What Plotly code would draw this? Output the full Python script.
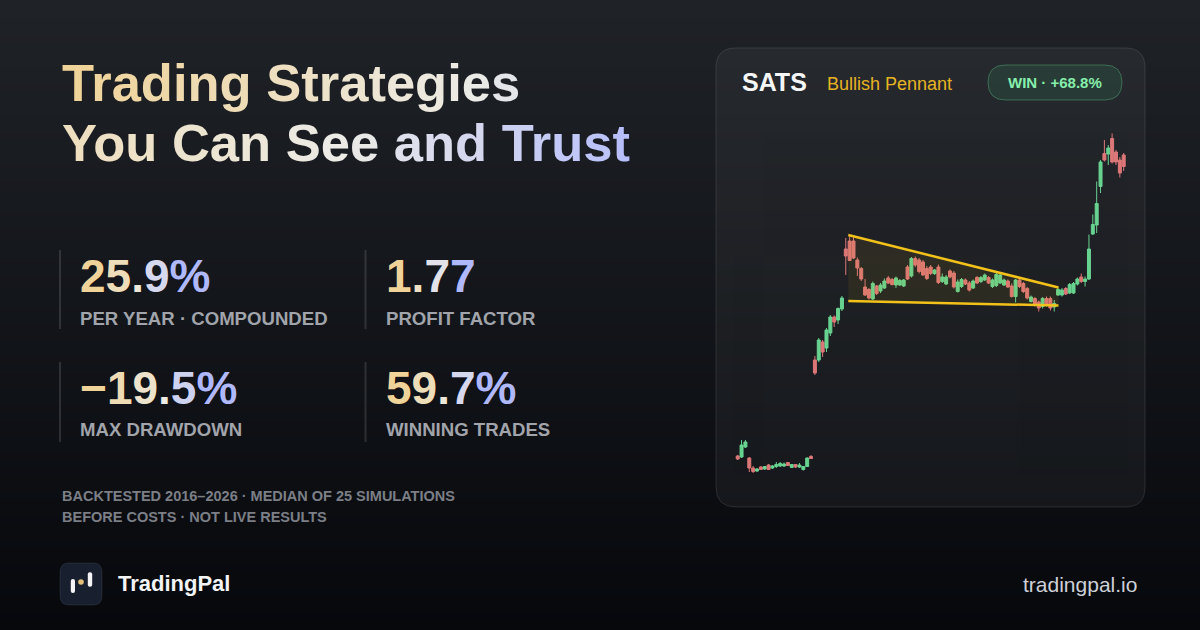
import plotly.graph_objects as go

W, H = 1200, 630

###############################################################################
# Chart values: SATS daily candles (price units)
###############################################################################

candle_open = [14.40, 14.30, 15.30, 14.20, 13.20, 12.90, 13.30, 13.10, 13.50, 13.20,
               13.35, 13.40, 13.40, 13.75, 13.25, 13.55, 13.30, 13.05, 13.35, 14.35,
               24.00, 24.00, 25.80, 25.20, 26.70, 28.30, 28.00, 29.10, 35.10, 35.90,
               35.90, 34.00, 33.15, 31.30, 31.05, 30.10, 31.40, 30.90, 31.20, 32.20,
               32.05, 31.50, 31.50, 31.40, 33.30, 32.40, 34.15, 34.00, 33.80, 33.15,
               33.30, 32.65, 33.30, 31.85, 31.60, 32.90, 32.70, 30.85, 31.35, 32.00,
               31.70, 31.20, 32.25, 31.85, 32.00, 32.25, 31.35, 31.45, 31.70, 31.50,
               31.90, 31.40, 30.35, 32.00, 31.65, 31.15, 29.85, 30.15, 29.80, 29.35,
               30.15, 30.15, 29.30, 30.50, 30.50, 31.15, 30.70, 30.70, 31.60, 32.30,
               31.85, 32.10, 36.60, 37.50, 41.35, 44.65, 44.60, 46.15, 44.80, 44.00,
               44.50]
candle_high = [14.50, 16.00, 16.00, 14.30, 13.40, 13.20, 13.40, 13.40, 13.60, 13.50,
               13.80, 13.80, 13.75, 13.80, 13.60, 13.60, 13.70, 13.40, 14.25, 14.50,
               24.40, 26.20, 26.00, 27.20, 28.50, 28.45, 29.25, 30.40, 36.20, 36.40,
               36.40, 34.25, 33.30, 32.10, 31.20, 31.85, 31.50, 31.70, 32.15, 32.40,
               32.20, 32.35, 32.10, 32.10, 33.50, 34.30, 34.35, 34.20, 34.00, 33.40,
               33.50, 33.10, 33.55, 32.65, 32.50, 33.05, 32.90, 32.05, 32.20, 32.15,
               31.90, 32.05, 32.40, 32.40, 32.65, 32.40, 32.15, 32.70, 32.65, 32.15,
               32.05, 31.65, 32.10, 32.15, 31.80, 31.30, 30.45, 30.30, 29.95, 30.30,
               30.35, 30.35, 30.00, 31.25, 31.20, 31.30, 31.70, 31.80, 32.25, 32.65,
               32.35, 36.55, 38.55, 41.85, 44.00, 46.00, 45.50, 46.65, 45.00, 44.30,
               44.70]
candle_low = [14.00, 14.20, 15.20, 12.80, 12.70, 12.80, 13.00, 13.00, 13.00, 13.10,
              13.20, 13.30, 13.30, 13.40, 13.20, 13.20, 13.20, 12.95, 13.30, 14.10,
              22.50, 23.80, 24.30, 24.80, 26.40, 27.30, 27.60, 28.90, 32.50, 33.90,
              34.10, 32.40, 31.90, 30.40, 30.05, 30.00, 30.50, 30.70, 31.10, 31.60,
              31.45, 31.20, 31.40, 31.30, 32.00, 32.25, 33.30, 32.65, 32.40, 32.00,
              32.50, 32.50, 31.60, 31.70, 31.50, 32.15, 31.15, 30.75, 31.20, 31.50,
              30.85, 31.10, 31.60, 31.70, 31.90, 31.60, 31.20, 31.30, 31.60, 31.40,
              31.20, 30.25, 29.75, 31.20, 30.70, 30.05, 29.75, 29.35, 28.85, 29.15,
              29.35, 28.95, 28.85, 30.40, 30.35, 30.50, 30.60, 30.60, 31.45, 31.70,
              31.35, 32.00, 36.50, 36.70, 40.70, 43.85, 43.50, 43.65, 43.50, 42.25,
              42.90]
candle_close = [14.10, 15.50, 15.80, 13.20, 12.85, 13.10, 13.05, 13.35, 13.05, 13.40,
                13.55, 13.65, 13.60, 13.45, 13.55, 13.30, 13.50, 13.35, 14.20, 14.15,
                22.70, 26.00, 24.80, 27.00, 28.30, 27.80, 29.15, 30.20, 34.40, 33.95,
                34.20, 33.20, 32.10, 30.50, 30.20, 31.65, 30.65, 31.50, 31.90, 31.70,
                31.55, 32.20, 31.95, 32.00, 32.10, 34.15, 33.50, 32.85, 32.50, 32.15,
                32.65, 33.00, 31.75, 32.30, 32.30, 32.30, 31.30, 31.80, 32.05, 31.60,
                31.00, 31.90, 31.70, 32.25, 32.50, 31.70, 32.00, 32.55, 32.50, 32.00,
                31.30, 30.35, 32.00, 31.35, 30.85, 30.20, 30.30, 29.60, 29.20, 30.15,
                29.50, 29.20, 29.65, 31.05, 31.00, 30.60, 31.55, 31.65, 32.10, 31.85,
                32.10, 35.10, 37.55, 39.65, 43.80, 44.00, 45.20, 43.80, 43.80, 42.70,
                43.35]
candle_idx = list(range(len(candle_open)))

# Pennant trend lines (candle index, price)
pennant_x = [28.65, 83.1]
pennant_top = [36.50, 31.25]
pennant_bottom = [29.90, 29.45]

# Headline stats
stat_values = ["25.9%", "1.77", "\u221219.5%", "59.7%"]
stat_labels = ["PER YEAR \u00b7 COMPOUNDED", "PROFIT FACTOR", "MAX DRAWDOWN", "WINNING TRADES"]
title_lines = ["Trading Strategies", "You Can See and Trust"]
footnotes = ["BACKTESTED 2016\u20132026 \u00b7 MEDIAN OF 25 SIMULATIONS",
             "BEFORE COSTS \u00b7 NOT LIVE RESULTS"]

###############################################################################
# Helpers
###############################################################################

FONT = "Liberation Sans, Arial, sans-serif"
GREEN = "#6fe39a"
RED = "#ee7f7f"
GOLD_LINE = "#f3c21a"


def px(x):
    return x / W


def py(y):
    return 1 - y / H


def hex_rgb(c):
    c = c.lstrip("#")
    return [int(c[i:i + 2], 16) for i in (0, 2, 4)]


def mix(c1, c2, t):
    a, b = hex_rgb(c1), hex_rgb(c2)
    return "#" + "".join(f"{round(a[i] + (b[i] - a[i]) * t):02x}" for i in range(3))


def grad(t):
    # gold -> off-white -> lavender
    t = max(0.0, min(1.0, t))
    if t < 0.6:
        return mix("#f0d399", "#ecebe6", t / 0.6)
    return mix("#ecebe6", "#b0b8fc", (t - 0.6) / 0.4)


def grad_text(s, t0=0.0, t1=1.0):
    n = max(len(s) - 1, 1)
    return "".join(f"<span style='color:{grad(t0 + (t1 - t0) * i / n)}'>{ch}</span>"
                   for i, ch in enumerate(s))


def rounded_rect(x0, y0, x1, y1, r):
    X = lambda x: f"{px(x):.5f}"
    Y = lambda y: f"{py(y):.5f}"
    return (f"M {X(x0 + r)},{Y(y0)} L {X(x1 - r)},{Y(y0)} Q {X(x1)},{Y(y0)} {X(x1)},{Y(y0 + r)} "
            f"L {X(x1)},{Y(y1 - r)} Q {X(x1)},{Y(y1)} {X(x1 - r)},{Y(y1)} "
            f"L {X(x0 + r)},{Y(y1)} Q {X(x0)},{Y(y1)} {X(x0)},{Y(y1 - r)} "
            f"L {X(x0)},{Y(y0 + r)} Q {X(x0)},{Y(y0)} {X(x0 + r)},{Y(y0)} Z")


def text(x, y, s, size, color="#ffffff", weight=400, anchor="left"):
    return dict(x=px(x), y=py(y), xref="paper", yref="paper", text=s, showarrow=False,
                xanchor=anchor, yanchor="middle", align=anchor,
                font=dict(family=FONT, size=size, color=color, weight=weight))


###############################################################################
# Figure
###############################################################################

fig = go.Figure()

fig.add_trace(go.Scatter(
    x=pennant_x + pennant_x[::-1], y=pennant_top + pennant_bottom[::-1],
    fill="toself", fillcolor="rgba(234,179,8,0.08)", line=dict(width=0),
    mode="lines", hoverinfo="skip"))

fig.add_trace(go.Candlestick(
    x=candle_idx, open=candle_open, high=candle_high, low=candle_low, close=candle_close,
    increasing=dict(line=dict(color=GREEN, width=1), fillcolor=GREEN),
    decreasing=dict(line=dict(color=RED, width=1), fillcolor=RED),
    whiskerwidth=0, opacity=0.92, hoverinfo="skip"))

for ys in (pennant_top, pennant_bottom):
    fig.add_trace(go.Scatter(x=pennant_x, y=ys, mode="lines",
                             line=dict(color=GOLD_LINE, width=2.5), hoverinfo="skip"))

shapes = []

# background gradient bands
n_bands = 105
for i in range(n_bands):
    t = i / (n_bands - 1)
    shapes.append(dict(type="rect", xref="paper", yref="paper", layer="below",
                       x0=0, x1=1, y0=py((i + 1) * H / n_bands + 0.5), y1=py(i * H / n_bands),
                       fillcolor=mix("#1f2227", "#06080c", t), line=dict(width=0)))

# chart card
shapes.append(dict(type="path", xref="paper", yref="paper", layer="below",
                   path=rounded_rect(716, 48, 1145, 507, 20),
                   fillcolor="rgba(255,255,255,0.045)",
                   line=dict(color="rgba(255,255,255,0.11)", width=1)))

# WIN badge
shapes.append(dict(type="path", xref="paper", yref="paper", layer="below",
                   path=rounded_rect(988, 65, 1122, 100, 17.5),
                   fillcolor="rgba(74,222,128,0.11)",
                   line=dict(color="rgba(110,231,160,0.32)", width=1)))

# stat dividers
for xd in (60, 365.5):
    for (ya, yb) in ((250, 329), (362, 442)):
        shapes.append(dict(type="line", xref="paper", yref="paper",
                           x0=px(xd), x1=px(xd), y0=py(ya), y1=py(yb),
                           line=dict(color="rgba(255,255,255,0.13)", width=2)))

# logo tile
shapes.append(dict(type="path", xref="paper", yref="paper",
                   path=rounded_rect(60, 563, 102, 605, 9),
                   fillcolor="#18202f", line=dict(color="rgba(255,255,255,0.08)", width=1)))
shapes.append(dict(type="path", xref="paper", yref="paper",
                   path=rounded_rect(70.8, 579, 75, 593, 2),
                   fillcolor="#f4f4f6", line=dict(width=0)))
shapes.append(dict(type="path", xref="paper", yref="paper",
                   path=rounded_rect(87.8, 572.3, 92.2, 586.7, 2),
                   fillcolor="#f4f4f6", line=dict(width=0)))
shapes.append(dict(type="circle", xref="paper", yref="paper",
                   x0=px(78.2), x1=px(83.8), y0=py(584.8), y1=py(579.2),
                   fillcolor="#e3bf7a", line=dict(width=0)))

annotations = []

# title, per-character colour ramp
for k, line in enumerate(title_lines):
    annotations.append(text(60, 83 + 59.5 * k, grad_text(line, 0.3 * k, 0.3 * k + 0.65),
                            52.5, weight=700))

# stats
stat_pos = [(78, 275.5, 318), (384, 275.5, 318), (78, 388, 429.5), (384, 388, 429.5)]
for (x0, yv, yl), val, lab in zip(stat_pos, stat_values, stat_labels):
    annotations.append(text(x0, yv, grad_text(val), 46, weight=700))
    annotations.append(text(x0, yl, lab, 18.6, color="#a1a4ab", weight=700))

for k, line in enumerate(footnotes):
    annotations.append(text(60, 495.7 + 21.7 * k, line, 14.5, color="#7c7f86", weight=700))

# footer brand
annotations.append(text(116, 583.5, "TradingPal", 22, color="#f3f4f6", weight=700))
annotations.append(text(1139, 584, "tradingpal.io", 21, color="#cdd0d6", anchor="right"))

# card header
annotations.append(text(740, 82.5, "SATS", 25, color="#f5f6f8", weight=700))
annotations.append(text(825, 84.5, "Bullish Pennant", 18, color="#e6b422"))
annotations.append(text(1055, 83, "WIN \u00b7 +68.8%", 15, color="#86efac", weight=700,
                        anchor="center"))

fig.update_layout(
    width=W, height=H, margin=dict(l=0, r=0, t=0, b=0),
    paper_bgcolor="#0b0d12", plot_bgcolor="rgba(0,0,0,0)",
    showlegend=False, hovermode=False, shapes=shapes, annotations=annotations,
    boxgap=0.12, boxgroupgap=0.12,
    xaxis=dict(domain=[733.84 / W, 1127.56 / W], range=[-1, 101], visible=False,
               rangeslider=dict(visible=False), fixedrange=True),
    yaxis=dict(domain=[py(480), py(120)], range=[12, 48], visible=False, fixedrange=True),
)

# drop the browser's default 8px body margin so the card sits at the page origin
fig.write_html("out.html", config={"displayModeBar": False},
               post_script="document.body.style.margin='0';")
